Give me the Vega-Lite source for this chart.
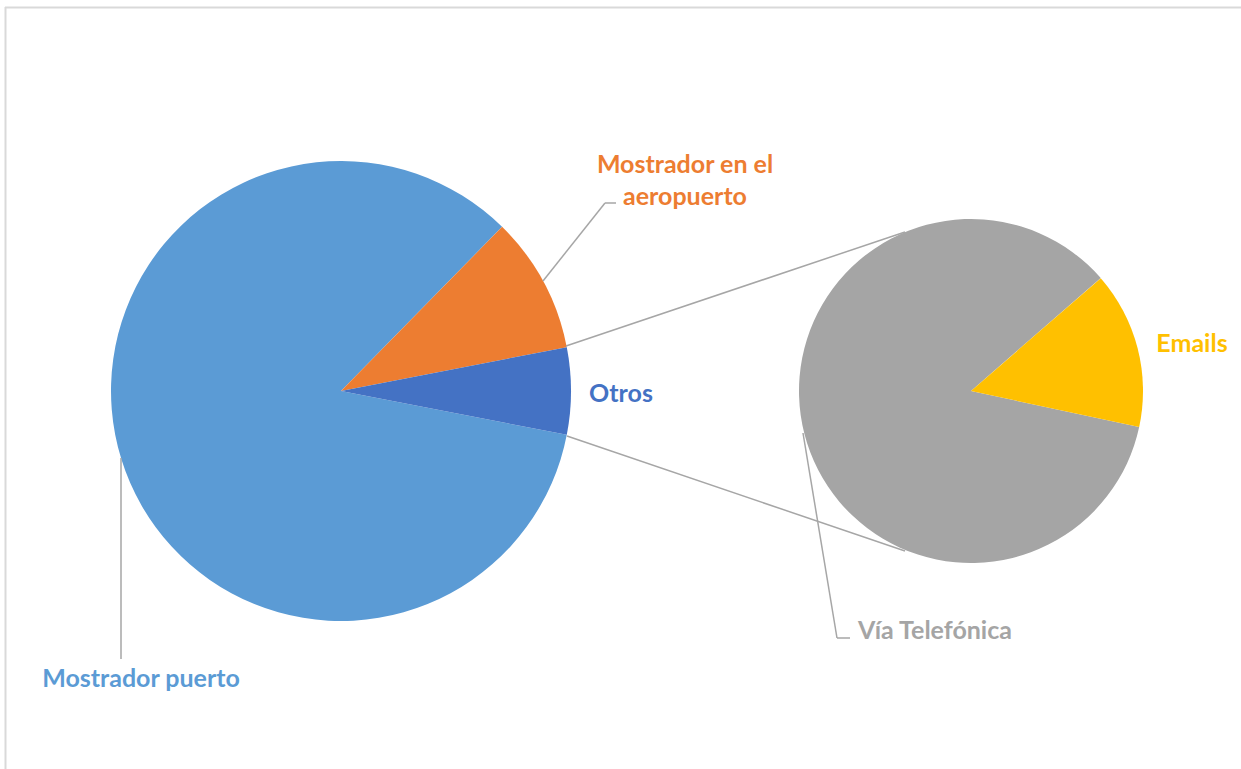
{
  "$schema": "https://vega.github.io/schema/vega-lite/v6.json",
  "width": 1241,
  "height": 769,
  "autosize": "none",
  "padding": 0,
  "background": "white",
  "view": {"stroke": null},
  "config": {"axis": {"domain": false, "grid": false, "ticks": false, "labels": false, "title": null}},
  "data": {"values": [{}]},
  "datasets": {
    "canales": [
      {"canal": "Mostrador puerto", "valor": 84.3},
      {"canal": "Mostrador en el aeropuerto", "valor": 9.6},
      {"canal": "Vía Telefónica", "valor": 5.2},
      {"canal": "Emails", "valor": 0.9}
    ]
  },
  "layer": [
    {
      "data": {"name": "canales"},
      "transform": [
        {"calculate": "datum.canal === 'Vía Telefónica' || datum.canal === 'Emails' ? 'Otros' : datum.canal", "as": "segmento"},
        {"aggregate": [{"op": "sum", "field": "valor", "as": "valor"}], "groupby": ["segmento"]},
        {"calculate": "datum.segmento === 'Mostrador en el aeropuerto' ? 1 : (datum.segmento === 'Otros' ? 2 : 3)", "as": "orden"}
      ],
      "mark": {"type": "arc", "outerRadius": 230},
      "encoding": {
        "theta": {"field": "valor", "type": "quantitative", "stack": true, "scale": {"range": [0.776, 7.059], "nice": false}},
        "order": {"field": "orden", "type": "quantitative"},
        "color": {
          "field": "segmento", "type": "nominal", "legend": null,
          "scale": {
            "domain": ["Mostrador puerto", "Mostrador en el aeropuerto", "Otros", "Vía Telefónica", "Emails"],
            "range": ["#5B9BD5", "#ED7D31", "#4472C4", "#A5A5A5", "#FFC000"]
          }
        },
        "x": {"datum": 341, "type": "quantitative", "scale": {"domain": [0, 1241], "nice": false, "zero": false}, "axis": null},
        "y": {"datum": 391, "type": "quantitative", "scale": {"domain": [0, 769], "nice": false, "zero": false, "reverse": true}, "axis": null}
      }
    },
    {
      "data": {"name": "canales"},
      "transform": [
        {"filter": "datum.canal === 'Vía Telefónica' || datum.canal === 'Emails'"},
        {"calculate": "datum.canal === 'Emails' ? 1 : 2", "as": "orden"}
      ],
      "mark": {"type": "arc", "outerRadius": 172},
      "encoding": {
        "theta": {"field": "valor", "type": "quantitative", "stack": true, "scale": {"range": [0.855, 7.138], "nice": false}},
        "order": {"field": "orden", "type": "quantitative"},
        "color": {"field": "canal", "type": "nominal", "legend": null},
        "x": {"datum": 971, "type": "quantitative", "axis": null},
        "y": {"datum": 391, "type": "quantitative", "axis": null}
      }
    },
    {
      "mark": {"type": "rule", "color": "#D9D9D9", "strokeWidth": 2},
      "encoding": {
        "x": {"datum": 5, "type": "quantitative"}, "x2": {"datum": 1241},
        "y": {"datum": 7.5, "type": "quantitative"}, "y2": {"datum": 7.5}
      }
    },
    {
      "mark": {"type": "rule", "color": "#D9D9D9", "strokeWidth": 2},
      "encoding": {
        "x": {"datum": 5.5, "type": "quantitative"}, "x2": {"datum": 5.5},
        "y": {"datum": 7, "type": "quantitative"}, "y2": {"datum": 769}
      }
    },
    {
      "mark": {"type": "rule", "color": "#A6A6A6", "strokeWidth": 1.5},
      "encoding": {
        "x": {"datum": 566, "type": "quantitative"}, "x2": {"datum": 905},
        "y": {"datum": 346, "type": "quantitative"}, "y2": {"datum": 232}
      }
    },
    {
      "mark": {"type": "rule", "color": "#A6A6A6", "strokeWidth": 1.5},
      "encoding": {
        "x": {"datum": 567, "type": "quantitative"}, "x2": {"datum": 905},
        "y": {"datum": 436, "type": "quantitative"}, "y2": {"datum": 551}
      }
    },
    {
      "mark": {"type": "rule", "color": "#A6A6A6", "strokeWidth": 1.5},
      "encoding": {
        "x": {"datum": 543, "type": "quantitative"}, "x2": {"datum": 605},
        "y": {"datum": 281, "type": "quantitative"}, "y2": {"datum": 203}
      }
    },
    {
      "mark": {"type": "rule", "color": "#A6A6A6", "strokeWidth": 1.5},
      "encoding": {
        "x": {"datum": 605, "type": "quantitative"}, "x2": {"datum": 616},
        "y": {"datum": 203, "type": "quantitative"}, "y2": {"datum": 203}
      }
    },
    {
      "mark": {"type": "rule", "color": "#A6A6A6", "strokeWidth": 1.5},
      "encoding": {
        "x": {"datum": 121, "type": "quantitative"}, "x2": {"datum": 121},
        "y": {"datum": 458, "type": "quantitative"}, "y2": {"datum": 659}
      }
    },
    {
      "mark": {"type": "rule", "color": "#A6A6A6", "strokeWidth": 1.5},
      "encoding": {
        "x": {"datum": 803, "type": "quantitative"}, "x2": {"datum": 837},
        "y": {"datum": 433, "type": "quantitative"}, "y2": {"datum": 638}
      }
    },
    {
      "mark": {"type": "rule", "color": "#A6A6A6", "strokeWidth": 1.5},
      "encoding": {
        "x": {"datum": 837, "type": "quantitative"}, "x2": {"datum": 850},
        "y": {"datum": 638, "type": "quantitative"}, "y2": {"datum": 638}
      }
    },
    {
      "mark": {"type": "text", "font": "Lato", "fontWeight": "bold", "fontSize": 25, "color": "#ED7D31", "align": "center", "baseline": "alphabetic"},
      "encoding": {"text": {"datum": "Mostrador en el"}, "x": {"datum": 685, "type": "quantitative"}, "y": {"datum": 173, "type": "quantitative"}}
    },
    {
      "mark": {"type": "text", "font": "Lato", "fontWeight": "bold", "fontSize": 25, "color": "#ED7D31", "align": "center", "baseline": "alphabetic"},
      "encoding": {"text": {"datum": "aeropuerto"}, "x": {"datum": 685, "type": "quantitative"}, "y": {"datum": 205, "type": "quantitative"}}
    },
    {
      "mark": {"type": "text", "font": "Lato", "fontWeight": "bold", "fontSize": 25, "color": "#4472C4", "align": "center", "baseline": "alphabetic"},
      "encoding": {"text": {"datum": "Otros"}, "x": {"datum": 621, "type": "quantitative"}, "y": {"datum": 402, "type": "quantitative"}}
    },
    {
      "mark": {"type": "text", "font": "Lato", "fontWeight": "bold", "fontSize": 25, "color": "#FFC000", "align": "center", "baseline": "alphabetic"},
      "encoding": {"text": {"datum": "Emails"}, "x": {"datum": 1192, "type": "quantitative"}, "y": {"datum": 352, "type": "quantitative"}}
    },
    {
      "mark": {"type": "text", "font": "Lato", "fontWeight": "bold", "fontSize": 25, "color": "#A5A5A5", "align": "left", "baseline": "alphabetic"},
      "encoding": {"text": {"datum": "Vía Telefónica"}, "x": {"datum": 858, "type": "quantitative"}, "y": {"datum": 639, "type": "quantitative"}}
    },
    {
      "mark": {"type": "text", "font": "Lato", "fontWeight": "bold", "fontSize": 25, "color": "#5B9BD5", "align": "center", "baseline": "alphabetic"},
      "encoding": {"text": {"datum": "Mostrador puerto"}, "x": {"datum": 141, "type": "quantitative"}, "y": {"datum": 687, "type": "quantitative"}}
    }
  ],
  "resolve": {"scale": {"theta": "independent"}}
}
